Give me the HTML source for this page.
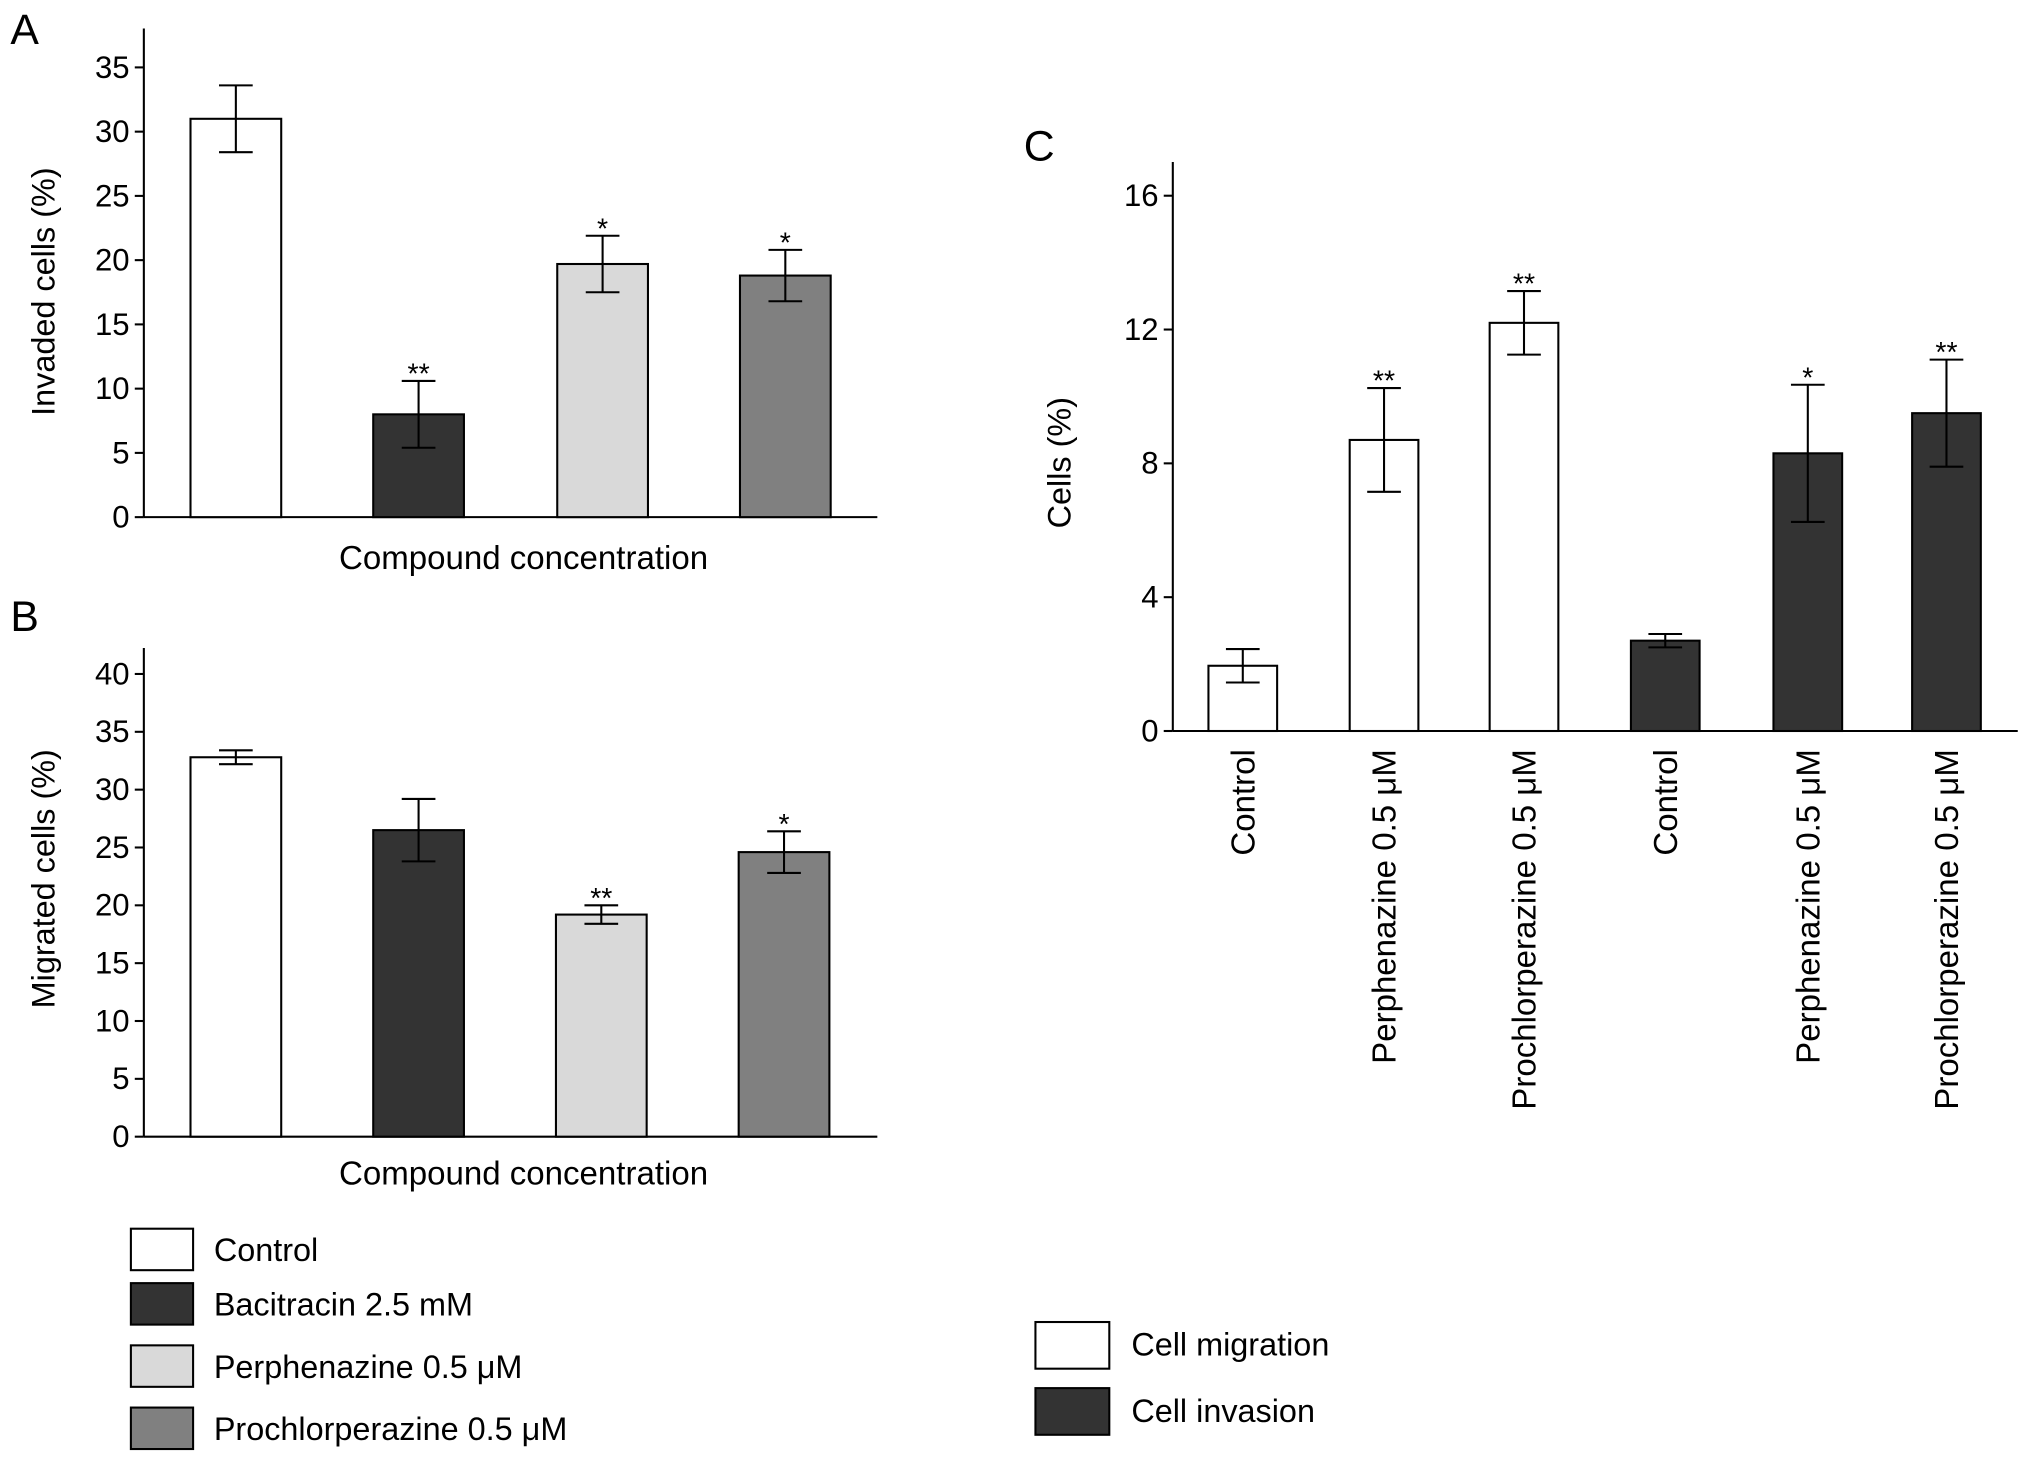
<!DOCTYPE html>
<html><head><meta charset="utf-8"><style>
html,body{margin:0;padding:0;background:#fff;}
svg{display:block;font-family:"Liberation Sans",Arial,sans-serif;}
</style></head><body>
<svg id="svg" width="2032" height="1462" viewBox="0 0 1568 1128" preserveAspectRatio="none" xmlns="http://www.w3.org/2000/svg">
<rect width="1568" height="1128" fill="#fff"/>
</svg>
<script>
const aCategories=["Control","Bacitracin 2.5 mM","Perphenazine 0.5 μM","Prochlorperazine 0.5 μM"];
const aValues=[31,8,19.7,18.8];
const aErrors=[2.6,2.6,2.2,2.0];
const aStars=["","**","*","*"];
const aTicks=[0,5,10,15,20,25,30,35];
const bValues=[32.8,26.5,19.2,24.6];
const bErrors=[0.6,2.7,0.8,1.8];
const bStars=["","","**","*"];
const bTicks=[0,5,10,15,20,25,30,35,40];
const cCategories=["Control","Perphenazine 0.5 μM","Prochlorperazine 0.5 μM","Control","Perphenazine 0.5 μM","Prochlorperazine 0.5 μM"];
const cValues=[1.95,8.7,12.2,2.7,8.3,9.5];
const cErrors=[0.5,1.55,0.95,0.2,2.05,1.6];
const cStars=["","**","**","","*","**"];
const cTicks=[0,4,8,12,16];
const fillsAB=["#ffffff","#333333","#d9d9d9","#808080"];
const fillsC=["#ffffff","#ffffff","#ffffff","#333333","#333333","#333333"];
const NS="http://www.w3.org/2000/svg";
const svg=document.getElementById('svg');
function el(t,a,txt){const e=document.createElementNS(NS,t);for(const k in a)e.setAttribute(k,a[k]);if(txt!==undefined)e.textContent=txt;svg.appendChild(e);return e;}
function panel(o){
  const y=v=>o.y0-(v-o.vmin)*(o.y0-o.yTop)/(o.vmaxT-o.vmin);
  let ax=el('line',{x1:o.ax,y1:o.axisTop,x2:o.ax,y2:o.y0,stroke:'#000','stroke-width':1.6});
  
  let xa=el('line',{x1:o.ax,y1:o.y0,x2:o.axEnd,y2:o.y0,stroke:'#000','stroke-width':1.6});
  
  o.ticks.forEach(t=>{
    el('line',{x1:o.ax-7,y1:y(t),x2:o.ax,y2:y(t),stroke:'#000','stroke-width':1.6});
    let tx=el('text',{x:o.ax-11,y:y(t)+8,'text-anchor':'end','font-size':24},String(t));
    
  });
  o.values.forEach((v,i)=>{
    const cx=o.centers[i],w=o.bw;
    let r=el('rect',{x:cx-w/2,y:y(v),width:w,height:o.y0-y(v),fill:o.fills[i],stroke:'#000','stroke-width':1.6});
    
    const e=o.errors[i],hi=y(v+e),lo=y(v-e),cw=13;
    el('line',{x1:cx,y1:hi,x2:cx,y2:lo,stroke:'#000','stroke-width':1.6});
    el('line',{x1:cx-cw,y1:hi,x2:cx+cw,y2:hi,stroke:'#000','stroke-width':1.6});
    el('line',{x1:cx-cw,y1:lo,x2:cx+cw,y2:lo,stroke:'#000','stroke-width':1.6});
    if(o.stars[i]){let s=el('text',{x:cx,y:hi+2,'text-anchor':'middle','font-size':22},o.stars[i]);
      }
  });
  let yl=el('text',{x:0,y:0,'text-anchor':'middle','font-size':25,transform:`translate(${o.ylx},${o.yly}) rotate(-90)`},o.ylabel);
  
  return y;
}
panel({id:'panel-a',ax:111,axEnd:677,y0:399,yTop:52,vmin:0,vmaxT:35,axisTop:22,ticks:aTicks,values:aValues,errors:aErrors,stars:aStars,
  centers:[182,323,465,606],bw:70,fills:fillsAB,ylabel:'Invaded cells (%)',ylx:42,yly:225});
panel({id:'panel-b',ax:111,axEnd:677,y0:877,yTop:520,vmin:0,vmaxT:40,axisTop:500,ticks:bTicks,values:bValues,errors:bErrors,stars:bStars,
  centers:[182,323,464,605],bw:70,fills:fillsAB,ylabel:'Migrated cells (%)',ylx:42,yly:678});
const cCenters=[959,1068,1176,1285,1395,1502];
panel({id:'panel-c',ax:905,axEnd:1557,y0:564,yTop:151,vmin:0,vmaxT:16,axisTop:125,ticks:cTicks,values:cValues,errors:cErrors,stars:cStars,
  centers:cCenters,bw:53,fills:fillsC,ylabel:'Cells (%)',ylx:826,yly:357});
cCategories.forEach((c,i)=>{
  let t=el('text',{x:0,y:0,'text-anchor':'end','font-size':25.5,transform:`translate(${cCenters[i]+9},578) rotate(-90)`},c);
  
});
[['A',8,34],['B',8,487],['C',790,124]].forEach(p=>{let t=el('text',{x:p[1],y:p[2],'font-size':33},p[0]);
  });
[[431],[906]].forEach((p,i)=>{let t=el('text',{x:404,y:p[0]+8,'text-anchor':'middle','font-size':25.5},'Compound concentration');
  });
const legYs=[948,990,1038,1086];
aCategories.forEach((c,i)=>{
  let r=el('rect',{x:101,y:legYs[i],width:48,height:32,fill:fillsAB[i],stroke:'#000','stroke-width':1.6});
  
  let t=el('text',{x:165,y:legYs[i]+25,'font-size':25},c);
  
});
[['Cell migration','#ffffff',1020],['Cell invasion','#333333',1071]].forEach((l,i)=>{
  let r=el('rect',{x:799,y:l[2],width:57,height:36,fill:l[1],stroke:'#000','stroke-width':1.6});
  
  let t=el('text',{x:873,y:l[2]+26,'font-size':25},l[0]);
  
});
</script>
</body></html>
